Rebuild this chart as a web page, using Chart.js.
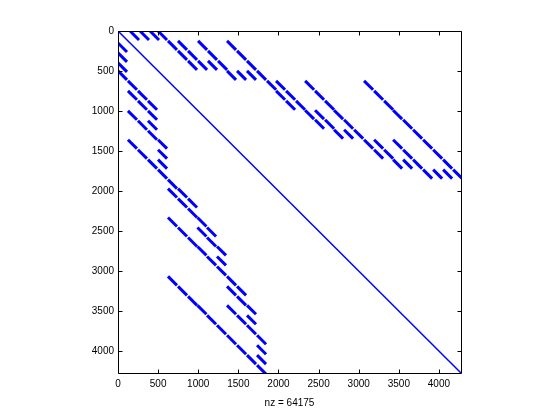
<!DOCTYPE html>
<html>
<head>
<meta charset="utf-8">
<script src="https://cdn.jsdelivr.net/npm/chart.js@4"></script>
<style>
  html, body { margin: 0; padding: 0; background: #fff; }
  #wrap { width: 560px; height: 420px; }
</style>
</head>
<body>
<div id="wrap"><canvas id="c" width="560" height="420" style="width:560px;height:420px"></canvas></div>
<script>
// Matrix size (axis limit) and tick labels
const N = 4275;
const tickValues = [0, 500, 1000, 1500, 2000, 2500, 3000, 3500, 4000];
const nzLabel = 'nz = 64175';

// Off-diagonal blocks of the lower triangle: start row of each block row,
// and start columns of the dashes in that block row (mirrored to the upper triangle).
const tileRows = [150, 274, 399, 499, 623, 748, 873, 998, 1122, 1247, 1359, 1484, 1608, 1733,
  1858, 1970, 2095, 2219, 2332, 2456, 2581, 2693, 2818, 2943,
  3067, 3192, 3317, 3429, 3554, 3678, 3803, 3928, 4052, 4177];
const tileCols = [[0], [0], [0], [0], [124], [124, 249], [249, 374], [124, 374], [249, 374], [374],
  [124, 499], [249, 499], [374, 499], [499],
  [623], [623, 748], [748, 873], [873], [623, 990], [748, 990, 1110], [873, 1110], [990, 1234], [1110, 1234], [1234],
  [623, 1359], [748, 1359, 1484], [873, 1484], [990, 1359, 1608], [1110, 1484, 1608], [1234, 1608],
  [1359, 1733], [1484, 1733], [1608, 1733], [1733]];
const tileLength = 112;

const BLUE = '#0000ff';
const datasets = [];
// main diagonal
datasets.push({
  data: [{x: 0, y: 0}, {x: N, y: N}],
  borderColor: BLUE, borderWidth: 1.5, pointRadius: 0, showLine: true, borderCapStyle: 'butt'
});
tileRows.forEach((r, i) => {
  tileCols[i].forEach(c => {
    // lower triangle
    datasets.push({
      data: [{x: c, y: r}, {x: c + tileLength, y: r + tileLength}],
      borderColor: BLUE, borderWidth: 3, pointRadius: 0, showLine: true, borderCapStyle: 'butt'
    });
    // symmetric upper triangle
    datasets.push({
      data: [{x: r, y: c}, {x: r + tileLength, y: c + tileLength}],
      borderColor: BLUE, borderWidth: 3, pointRadius: 0, showLine: true, borderCapStyle: 'butt'
    });
  });
});

const font = {family: "'Liberation Sans', Arial, Helvetica, sans-serif", size: 10};

const boxPlugin = {
  id: 'box',
  afterDraw(chart) {
    const {ctx, chartArea, scales} = chart;
    const L = Math.floor(chartArea.left) + 0.5, R = Math.floor(chartArea.right) + 0.5;
    const T = Math.floor(chartArea.top) + 0.5, B = Math.floor(chartArea.bottom) + 0.5;
    ctx.save();
    ctx.strokeStyle = '#000';
    ctx.lineWidth = 1;
    ctx.beginPath();
    tickValues.forEach(v => {
      const px = Math.round(scales.x.getPixelForValue(v)) + 0.5;
      ctx.moveTo(px, B); ctx.lineTo(px, B - 4);
      ctx.moveTo(px, T); ctx.lineTo(px, T + 4);
      const py = Math.round(scales.y.getPixelForValue(v)) + 0.5;
      ctx.moveTo(L, py); ctx.lineTo(L + 4, py);
      ctx.moveTo(R, py); ctx.lineTo(R - 4, py);
    });
    ctx.moveTo(L, T); ctx.lineTo(R, T); ctx.lineTo(R, B); ctx.lineTo(L, B); ctx.closePath();
    ctx.stroke();
    ctx.restore();
  }
};

const tickFmt = v => String(v);

new Chart(document.getElementById('c'), {
  type: 'scatter',
  data: {datasets},
  options: {
    responsive: false,
    animation: false,
    events: [],
    layout: {padding: {left: 0, right: 99, top: 31, bottom: 0}},
    scales: {
      x: {
        type: 'linear', min: 0, max: N, position: 'bottom',
        afterBuildTicks: s => { s.ticks = tickValues.map(v => ({value: v})); },
        afterFit: s => { s.height = 47; },
        ticks: {font, color: '#000', padding: 5, maxRotation: 0, autoSkip: false, callback: tickFmt},
        grid: {display: false, drawTicks: false},
        border: {display: false},
        title: {display: true, text: nzLabel, font, color: '#000', padding: {top: 4, bottom: 11}}
      },
      y: {
        type: 'linear', min: 0, max: N, reverse: true, position: 'left',
        afterBuildTicks: s => { s.ticks = tickValues.map(v => ({value: v})); },
        afterFit: s => { s.width = 118; },
        ticks: {font, color: '#000', padding: 4, autoSkip: false, callback: tickFmt},
        grid: {display: false, drawTicks: false},
        border: {display: false}
      }
    },
    plugins: {legend: {display: false}, tooltip: {enabled: false}}
  },
  plugins: [boxPlugin]
});
</script>
</body>
</html>
